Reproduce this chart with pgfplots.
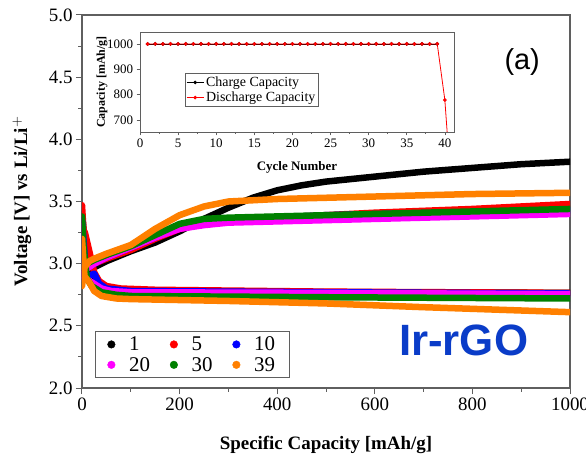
\documentclass[border=0pt]{standalone}
\usepackage{pgfplots}
\pgfplotsset{compat=1.18}
\usepackage{fontspec}
\setmainfont{Liberation Serif}
\newfontfamily\arial{Liberation Sans}
\definecolor{cOrange}{RGB}{255,128,0}
\definecolor{cGreen}{RGB}{0,128,0}
\definecolor{cMag}{RGB}{255,0,255}
\definecolor{irblue}{RGB}{10,60,200}
\definecolor{frame}{RGB}{95,95,95}
\pgfplotsset{curve/.style={line width=6.5bp, line cap=round, line join=round, forget plot}}
\begin{document}
\begin{tikzpicture}
\useasboundingbox[fill=white] (-82bp,-80bp) rectangle (504bp,388bp);
\begin{axis}[
  at={(0,0)}, anchor=south west, scale only axis, width=488bp, height=373bp,
  xmin=0, xmax=1000, ymin=2, ymax=5,
  xtick={0,200,...,1000}, ytick={2,2.5,...,5},
  minor x tick num=1, minor y tick num=1,
  tick align=outside, xtick pos=left, ytick pos=left,
  /pgf/number format/assume math mode=true,
  yticklabel style={/pgf/number format/.cd, fixed, fixed zerofill, precision=1},
  xticklabel style={/pgf/number format/.cd, fixed, set thousands separator={}},
  tick label style={font=\fontsize{19}{19}\selectfont},
  axis line style={frame, line width=1.2bp},
  every tick/.style={frame, line width=1bp},
  major tick length=6bp, minor tick length=3.5bp,
  xlabel={\textbf{Specific Capacity [mAh/g]}},
  ylabel={\textbf{Voltage [V] vs Li/Li$^{\mathbf{+}}$}},
  every axis x label/.style={at={(axis description cs:0.5,-0.153)}, anchor=center, font=\fontsize{19}{19}\selectfont},
  every axis y label/.style={at={(axis description cs:-0.123,0.5)}, rotate=90, anchor=center, font=\fontsize{19}{19}\selectfont},
  legend columns=3,
  legend style={at={(axis description cs:0.027,0.027)}, anchor=south west, draw=frame, line width=0.8bp,
    font=\fontsize{21}{21}\selectfont, inner xsep=12bp, inner ysep=3bp, row sep=1bp,
    /tikz/every odd column/.append style={column sep=12bp},
    /tikz/every even column/.append style={column sep=18bp}},
  legend cell align=left,
]
% cycle 1
\addplot[black, curve] coordinates {(0,2.92)(10,2.95)(25,2.97)(50,3.02)(100,3.10)(150,3.17)(200,3.26)(250,3.36)(300,3.45)(350,3.53)(400,3.59)(450,3.63)(500,3.66)(600,3.70)(700,3.74)(800,3.77)(900,3.80)(1000,3.82)};
\addplot[black, curve] coordinates {(0,3.40)(5,3.20)(12,3.05)(20,2.92)(30,2.84)(45,2.80)(70,2.785)(100,2.78)(300,2.775)(600,2.77)(1000,2.765)};
% cycle 5
\addplot[red, curve] coordinates {(0,2.95)(10,2.98)(25,3.00)(50,3.04)(100,3.11)(150,3.20)(200,3.28)(250,3.32)(300,3.34)(400,3.37)(600,3.41)(800,3.44)(1000,3.48)};
\addplot[red, curve] coordinates {(0,3.47)(3,3.27)(6,3.25)(15,3.10)(25,2.93)(35,2.86)(50,2.82)(80,2.80)(150,2.79)(500,2.775)(1000,2.765)};
% cycle 10
\addplot[blue, curve] coordinates {(0,2.90)(10,2.96)(25,3.00)(50,3.05)(100,3.13)(150,3.21)(200,3.29)(250,3.33)(300,3.35)(500,3.39)(1000,3.43)};
\addplot[blue, curve] coordinates {(0,3.35)(3,3.20)(8,2.92)(15,2.90)(25,2.92)(35,2.84)(50,2.80)(100,2.78)(500,2.77)(1000,2.76)};
% cycle 20
\addplot[cMag, curve] coordinates {(0,2.88)(10,2.96)(25,3.00)(50,3.05)(100,3.13)(150,3.21)(200,3.28)(250,3.31)(300,3.33)(500,3.35)(800,3.38)(1000,3.40)};
\addplot[cMag, curve] coordinates {(0,3.30)(3,2.90)(8,2.88)(20,2.85)(40,2.80)(60,2.78)(100,2.77)(500,2.765)(1000,2.755)};
% cycle 30
\addplot[cGreen, curve] coordinates {(0,2.98)(10,3.00)(25,3.03)(50,3.07)(100,3.14)(150,3.23)(200,3.32)(250,3.36)(300,3.37)(500,3.39)(800,3.42)(1000,3.44)};
\addplot[cGreen, curve] coordinates {(0,3.38)(3,3.15)(10,2.88)(20,2.82)(40,2.77)(70,2.75)(100,2.74)(500,2.73)(1000,2.72)};
% cycle 39
\addplot[cOrange, curve] coordinates {(0,2.82)(5,2.97)(15,3.02)(25,3.04)(50,3.08)(100,3.15)(150,3.28)(200,3.39)(250,3.46)(300,3.50)(400,3.52)(600,3.54)(800,3.56)(1000,3.57)};
\addplot[cOrange, curve] coordinates {(0,3.20)(5,2.90)(15,2.85)(25,2.78)(40,2.74)(70,2.72)(100,2.715)(300,2.70)(500,2.68)(700,2.65)(1000,2.61)};
\addlegendimage{only marks, mark=*, mark size=3.8bp, line width=0.4bp, black}
\addlegendentry{1}
\addlegendimage{only marks, mark=*, mark size=3.8bp, line width=0.4bp, red}
\addlegendentry{5}
\addlegendimage{only marks, mark=*, mark size=3.8bp, line width=0.4bp, blue}
\addlegendentry{10}
\addlegendimage{only marks, mark=*, mark size=3.8bp, line width=0.4bp, cMag}
\addlegendentry{20}
\addlegendimage{only marks, mark=*, mark size=3.8bp, line width=0.4bp, cGreen}
\addlegendentry{30}
\addlegendimage{only marks, mark=*, mark size=3.8bp, line width=0.4bp, cOrange}
\addlegendentry{39}
\node[font=\arial\fontsize{29}{29}\selectfont] at (axis cs:902,4.62) {(a)};
\node[font=\arial\bfseries\fontsize{44}{44}\selectfont, text=irblue] at (axis cs:782,2.385) {Ir-rGO};
\end{axis}
\begin{axis}[
  at={(58bp,256bp)}, anchor=south west, scale only axis, width=314bp, height=100bp,
  xmin=0, xmax=41.2, ymin=653, ymax=1047,
  xtick={0,5,...,40}, ytick={700,800,900,1000},
  minor x tick num=1,
  tick align=outside, xtick pos=left, ytick pos=left,
  /pgf/number format/assume math mode=true,
  yticklabel style={/pgf/number format/.cd, set thousands separator={}},
  tick label style={font=\fontsize{13}{13}\selectfont},
  axis background/.style={fill=white},
  axis line style={frame, line width=0.9bp},
  every tick/.style={frame, line width=0.7bp},
  major tick length=3.5bp, minor tick length=2bp,
  xlabel={\textbf{Cycle Number}},
  ylabel={\textbf{Capacity [mAh/g]}},
  every axis x label/.style={at={(axis description cs:0.5,-0.35)}, anchor=center, font=\fontsize{13}{13}\selectfont},
  every axis y label/.style={at={(axis description cs:-0.121,0.5)}, rotate=90, anchor=center, font=\fontsize{12}{12}\selectfont},
  legend style={at={(axis description cs:0.143,0.59)}, anchor=north west, draw=frame, line width=0.7bp,
    font=\fontsize{14}{14}\selectfont, inner xsep=1bp, inner ysep=1.5bp, row sep=0bp},
  legend cell align=left,
]
\addplot[black, line width=0.8bp, mark=*, mark size=1.4bp] coordinates {(1,1000)(2,1000)(3,1000)(4,1000)(5,1000)(6,1000)(7,1000)(8,1000)(9,1000)(10,1000)(11,1000)(12,1000)(13,1000)(14,1000)(15,1000)(16,1000)(17,1000)(18,1000)(19,1000)(20,1000)(21,1000)(22,1000)(23,1000)(24,1000)(25,1000)(26,1000)(27,1000)(28,1000)(29,1000)(30,1000)(31,1000)(32,1000)(33,1000)(34,1000)(35,1000)(36,1000)(37,1000)(38,1000)(39,1000)};
\addlegendentry{Charge Capacity}
\addplot[red, line width=0.8bp, mark=*, mark size=1.4bp] coordinates {(1,1000)(2,1000)(3,1000)(4,1000)(5,1000)(6,1000)(7,1000)(8,1000)(9,1000)(10,1000)(11,1000)(12,1000)(13,1000)(14,1000)(15,1000)(16,1000)(17,1000)(18,1000)(19,1000)(20,1000)(21,1000)(22,1000)(23,1000)(24,1000)(25,1000)(26,1000)(27,1000)(28,1000)(29,1000)(30,1000)(31,1000)(32,1000)(33,1000)(34,1000)(35,1000)(36,1000)(37,1000)(38,1000)(39,1000)(40,779)};
\addlegendentry{Discharge Capacity}
\addplot[red, line width=0.8bp, forget plot] coordinates {(40,779)(41,360)};
\end{axis}
\end{tikzpicture}
\end{document}
